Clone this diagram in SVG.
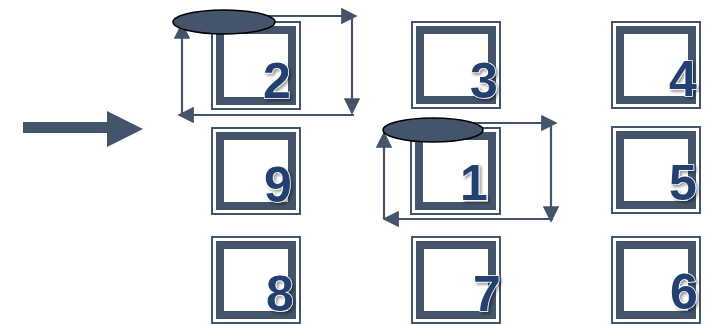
<svg xmlns="http://www.w3.org/2000/svg" width="711" height="325" viewBox="0 0 711 325">
<defs>
<style>
.outer{fill:none;stroke:#44546a;stroke-width:2}
.inner{fill:none;stroke:#44546a;stroke-width:8}
.num{font-family:"Liberation Sans",Arial,sans-serif;font-weight:bold;font-size:50px;fill:#213f70;stroke:#ffffff;stroke-width:1.5;paint-order:stroke;text-anchor:middle;filter:url(#sh)}
.conn{fill:none;stroke:#44546a;stroke-width:2.2;marker-end:url(#ah)}
.ell{fill:#44546a;stroke:#000;stroke-width:1.5}
</style>
<marker id="ah" viewBox="0 0 10 10" refX="9" refY="5" markerWidth="8" markerHeight="7.5" markerUnits="strokeWidth" orient="auto">
<path d="M0,0 L10,5 L0,10 z" fill="#44546a"/>
</marker>
<filter id="sh" x="-20%" y="-20%" width="150%" height="150%">
<feDropShadow dx="2" dy="2" stdDeviation="1.5" flood-color="#000" flood-opacity="0.4"/>
</filter>
</defs>
<rect width="711" height="325" fill="#fff"/>
<g id="start-arrow"><path d="M23,122 H107 V111 L143,129 L107,147 V133 H23 z" fill="#44546a"/></g>
<g id="node-2"><rect class="outer" x="212" y="22" width="88" height="87"/><rect class="inner" x="220" y="30" width="72" height="71"/><text class="num" x="277" y="98">2</text></g>
<g id="node-3"><rect class="outer" x="412" y="22" width="88" height="86"/><rect class="inner" x="420" y="30" width="72" height="70"/><text class="num" x="484" y="98">3</text></g>
<g id="node-4"><rect class="outer" x="612" y="22" width="88" height="86"/><rect class="inner" x="620" y="30" width="72" height="70"/><text class="num" x="683" y="96">4</text></g>
<g id="node-9"><rect class="outer" x="212" y="128" width="88" height="86"/><rect class="inner" x="220" y="136" width="72" height="70"/><text class="num" x="278" y="202">9</text></g>
<g id="node-1"><rect class="outer" x="411" y="128" width="89" height="86"/><rect class="inner" x="419" y="136" width="73" height="70"/><text class="num" x="474" y="200">1</text></g>
<g id="node-5"><rect class="outer" x="612" y="127" width="88" height="86"/><rect class="inner" x="620" y="135" width="72" height="70"/><text class="num" x="683" y="200">5</text></g>
<g id="node-8"><rect class="outer" x="212" y="237" width="88" height="86"/><rect class="inner" x="220" y="245" width="72" height="70"/><text class="num" x="280" y="311">8</text></g>
<g id="node-7"><rect class="outer" x="412" y="237" width="88" height="86"/><rect class="inner" x="420" y="245" width="72" height="70"/><text class="num" x="487" y="311">7</text></g>
<g id="node-6"><rect class="outer" x="612" y="237" width="88" height="86"/><rect class="inner" x="620" y="245" width="72" height="70"/><text class="num" x="684" y="309">6</text></g>
<g id="connectors">
<path class="conn" d="M260,16 H356"/>
<path class="conn" d="M352,18 V113"/>
<path class="conn" d="M354,115 H179"/>
<path class="conn" d="M182,115 V24"/>
<path class="conn" d="M470,123 H556"/>
<path class="conn" d="M551,125 V221"/>
<path class="conn" d="M553,219 H384"/>
<path class="conn" d="M384,219 V133"/>
</g>
<g id="token-a"><ellipse class="ell" cx="224" cy="22" rx="51" ry="12"/></g>
<g id="token-b"><ellipse class="ell" cx="433" cy="130" rx="50" ry="12"/></g>
</svg>
